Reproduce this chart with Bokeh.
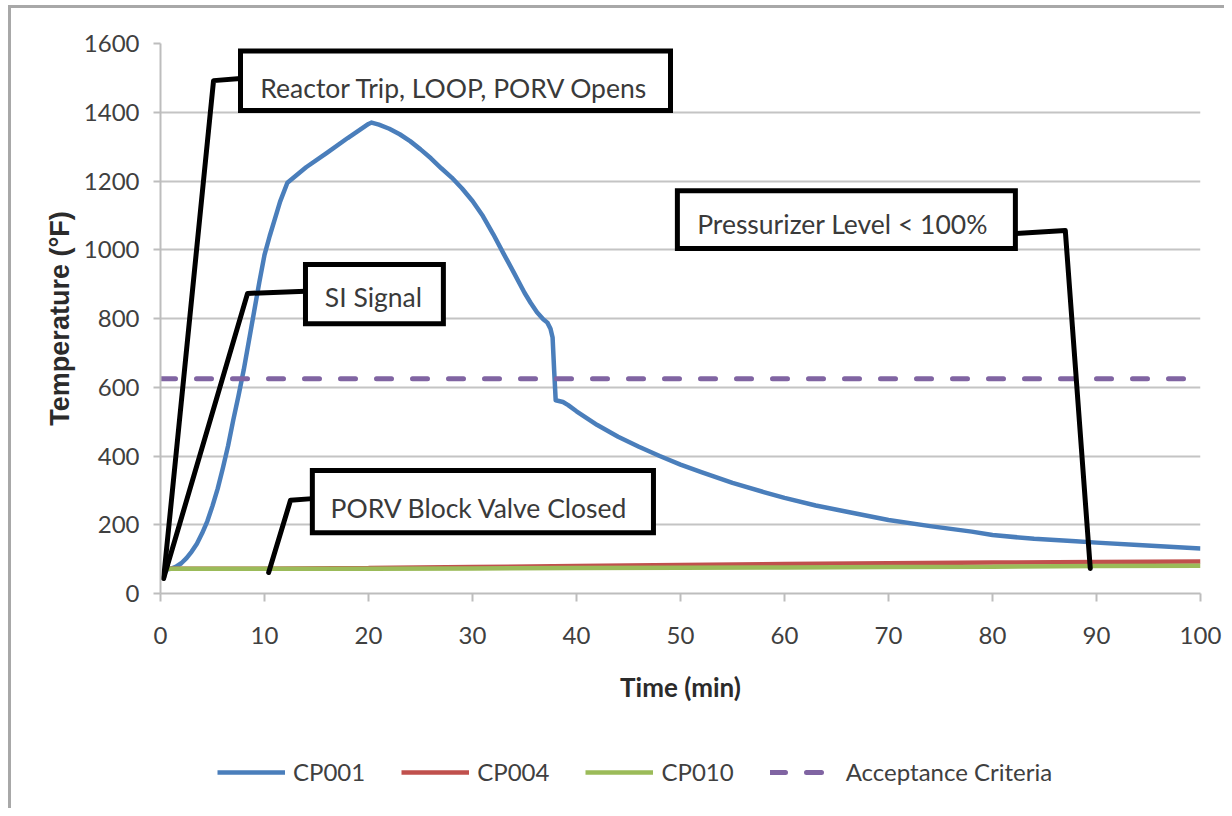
from bokeh.plotting import figure
from bokeh.layouts import column
from bokeh.models import Range1d, FixedTicker, Label, Legend, LegendItem
from bokeh.embed import file_html
from bokeh.resources import INLINE

# ---------------- data ----------------
cp001_time = [0.5, 1.0, 1.5, 2.0, 2.5, 3.0, 3.5, 4.0, 4.5, 5.0, 5.5, 6.0, 6.5, 7.0, 7.5,
              8.0, 8.5, 9.0, 9.5, 10.0, 10.5, 11.0, 11.5, 12.2, 14, 16, 18, 20, 20.3,
              21, 22, 23, 24, 25, 26, 27, 28, 29, 30, 31, 32, 33, 34, 35, 35.6, 36.2,
              36.8, 37.2, 37.5, 37.7, 37.85, 38.0, 38.7, 39.2, 40, 42, 44, 46, 48, 50,
              52, 55, 58, 60, 63, 66, 70, 74, 78, 80, 84, 88, 90, 94, 97, 100]
cp001_temp = [70, 72, 78, 88, 103, 122, 145, 175, 210, 255, 305, 365, 430, 505, 575,
              650, 735, 820, 905, 985, 1040, 1090, 1140, 1195, 1240, 1282, 1325, 1366, 1370,
              1364, 1352, 1336, 1316, 1292, 1266, 1237, 1210, 1178, 1142, 1098, 1045, 988, 932, 875, 845, 818,
              798, 788, 770, 745, 650, 562, 557, 548, 530, 490, 456, 427, 400, 375,
              353, 322, 295, 278, 256, 238, 214, 196, 180, 170, 159, 152, 148, 141, 136, 131]

cp004_time = [0.3, 10, 20, 30, 40, 50, 60, 70, 80, 90, 100]
cp004_temp = [72, 72, 74, 77, 80, 83, 86, 88, 90, 92, 93]

cp010_time = [0.3, 10, 20, 30, 40, 50, 60, 70, 80, 90, 100]
cp010_temp = [72, 72, 72, 73, 74, 75, 76, 77, 78, 80, 81]

accept_time = [0, 100]
accept_temp = [625, 625]

x_ticks = list(range(0, 101, 10))
y_ticks = list(range(0, 1601, 200))

series_names = ["CP001", "CP004", "CP010", "Acceptance Criteria"]

callout_texts = ["Reactor Trip, LOOP, PORV Opens", "SI Signal",
                 "PORV Block Valve Closed", "Pressurizer Level < 100%"]

# ---------------- callout layout (annotation geometry, data units) ----------------
callout_boxes = [  # left, right, bottom, top
    (7.69, 49.04, 1405, 1578),
    (13.94, 27.2, 785, 957),
    (14.6, 47.4, 177, 358),
    (49.7, 82.2, 1004, 1172),
]
callout_leaders = [
    ([0.3, 5.1, 7.69], [44, 1492, 1498]),
    ([0.3, 8.37, 13.94], [44, 873, 879]),
    ([10.4, 12.5, 14.6], [61, 271, 276]),
    ([82.2, 87.0, 89.4], [1047, 1056, 73]),
]
callout_text_pos = [(9.6, 1472), (15.8, 864), (16.35, 250), (51.6, 1076)]

series_styles = [
    dict(line_color="#4a7ebb", line_width=4.5, line_join="round"),
    dict(line_color="#c0504d", line_width=4.5),
    dict(line_color="#9bbb59", line_width=4.5),
    dict(line_color="#8064a2", line_width=5, line_dash="15 21", line_cap="round"),
]
series_data = [(cp001_time, cp001_temp), (cp004_time, cp004_temp),
               (cp010_time, cp010_temp), (accept_time, accept_temp)]

BORDER = "#a8a8a8"

# ---------------- main chart ----------------
p = figure(width=1224, height=715, output_backend="svg", toolbar_location=None,
           x_range=Range1d(0, 100), y_range=Range1d(0, 1600))
p.min_border_left = 160
p.min_border_right = 24
p.min_border_top = 43
p.min_border_bottom = 122
p.outline_line_color = None
p.background_fill_color = "white"
p.border_fill_color = None
p.styles = {
    "background": f"linear-gradient({BORDER},{BORDER}) 8px 5px / 3px calc(100% - 5px) no-repeat, "
                  f"linear-gradient({BORDER},{BORDER}) 8px 5px / calc(100% - 8px) 3px no-repeat, #ffffff"
}

p.xgrid.visible = False
p.ygrid.grid_line_color = "#c4c4c4"
p.ygrid.grid_line_width = 2
p.ygrid.ticker = FixedTicker(ticks=y_ticks)

tick_color = "#404040"
for ax in (p.xaxis[0], p.yaxis[0]):
    ax.axis_line_color = "#bdbdbd"
    ax.axis_line_width = 2
    ax.major_tick_line_color = "#bdbdbd"
    ax.major_tick_line_width = 2
    ax.major_tick_in = 0
    ax.minor_tick_line_color = None
    ax.major_label_text_font = "Lato"
    ax.major_label_text_font_size = "24px"
    ax.major_label_text_color = tick_color
    ax.axis_label_text_color = "#2b2b2b"
    ax.axis_label_text_font_style = "bold"

p.xaxis[0].ticker = FixedTicker(ticks=x_ticks)
p.yaxis[0].ticker = FixedTicker(ticks=y_ticks)
p.xaxis[0].major_tick_out = 8
p.yaxis[0].major_tick_out = 7
p.xaxis[0].major_label_standoff = 25
p.yaxis[0].major_label_standoff = 14
p.xaxis[0].axis_label = "Time (min)"
p.xaxis[0].axis_label_text_font = "Lato"
p.xaxis[0].axis_label_text_font_size = "26px"
p.xaxis[0].axis_label_standoff = 24
p.yaxis[0].axis_label = "Temperature (°F)"
p.yaxis[0].axis_label_text_font = "Liberation Sans"
p.yaxis[0].axis_label_text_font_size = "27px"
p.yaxis[0].axis_label_standoff = 6

for (xs, ys), st in zip(series_data, series_styles):
    p.line(xs, ys, **st)

# callouts
for (lx, ly) in callout_leaders:
    p.line(lx, ly, line_color="black", line_width=5, line_join="round", line_cap="round")
for (l, r, b, t) in callout_boxes:
    p.quad(left=[l], right=[r], bottom=[b], top=[t], fill_color="white",
           line_color="black", line_width=5, line_join="miter")
for txt, (tx, ty) in zip(callout_texts, callout_text_pos):
    p.add_layout(Label(x=tx, y=ty, text=txt, text_font="Lato", text_font_size="26.5px",
                       text_color="#3a3a3a", text_baseline="middle", text_align="left"))

# ---------------- legend strip (below the chart) ----------------
# The strip's ranges hold none of the series values, so its lines stay out of view;
# they only provide the legend glyphs.
pl = figure(width=1224, height=93, output_backend="svg", toolbar_location=None,
            x_axis_type=None, y_axis_type=None,
            x_range=Range1d(0, 1), y_range=Range1d(0, 1))
pl.min_border = 0
pl.outline_line_color = None
pl.border_fill_color = None
pl.background_fill_color = None
pl.grid.visible = False
pl.styles = {
    "background": f"linear-gradient({BORDER},{BORDER}) 8px 0px / 3px 100% no-repeat, #ffffff"
}
legend_renderers = [pl.line(xs, ys, **st) for (xs, ys), st in zip(series_data, series_styles)]

legend = Legend(items=[LegendItem(label=n, renderers=[r]) for n, r in
                       zip(series_names, legend_renderers)],
                orientation="horizontal", location=(57, 22))
legend.border_line_color = None
legend.background_fill_alpha = 0
legend.padding = 0
legend.margin = 0
legend.glyph_width = 68
legend.glyph_height = 24
legend.label_standoff = 8
legend.spacing = 36
legend.label_text_font = "Lato"
legend.label_text_font_size = "24px"
legend.label_text_color = tick_color
pl.add_layout(legend, "center")

layout = column(p, pl, spacing=0)
open("out.html", "w").write(file_html(layout, INLINE))
